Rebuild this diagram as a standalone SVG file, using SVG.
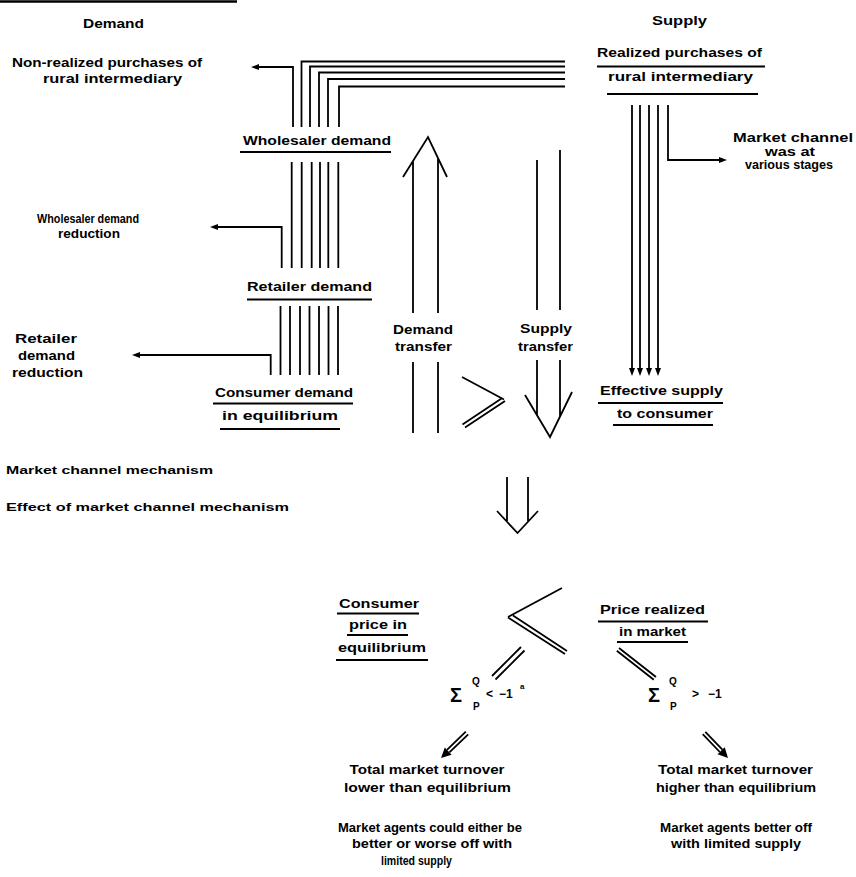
<svg xmlns="http://www.w3.org/2000/svg" width="856" height="877" viewBox="0 0 856 877">
<style>
text{font-family:"Liberation Sans",Arial,sans-serif;font-weight:bold;font-size:12px;fill:#000}
.sm{font-size:10.5px}
.ln{fill:none;stroke:#000;stroke-width:1.8}
.ul{stroke:#000;stroke-width:1.8}
.ar{fill:#000;stroke:none}
</style>
<defs>
<marker id="ah" viewBox="0 0 8 6" refX="1" refY="3" markerWidth="8" markerHeight="6" orient="auto" markerUnits="userSpaceOnUse"><path d="M0,0 L8,3 L0,6 z"/></marker>
</defs>
<rect width="856" height="877" fill="#fff"/>
<line x1="0" y1="1.5" x2="237" y2="1.5" stroke="#000" stroke-width="2.5"/>

<g id="connectors">
  <path class="ln" d="M293,127 V67 H258" marker-end="url(#ah)"/>
  <path class="ln" d="M301.5,127 V61.5 H565 M310,127 V66.5 H565 M319,127 V72.5 H565 M328,127 V79 H565 M339,127 V86.5 H565"/>
  <path class="ln" d="M281.7,268 V227 H217" marker-end="url(#ah)"/>
  <path class="ln" d="M291.7,162 V268 M301.7,162 V268 M311.7,162 V268 M320,162 V268 M328.3,162 V268 M338.3,162 V268"/>
  <path class="ln" d="M270.7,375 V355 H139" marker-end="url(#ah)"/>
  <path class="ln" d="M280.5,306 V375 M290,306 V375 M300,306 V375 M309.5,306 V375 M319,306 V375 M328.5,306 V375 M338,306 V375"/>
  <path class="ln" d="M632,105 V369" marker-end="url(#ah)"/>
  <path class="ln" d="M640,105 V369" marker-end="url(#ah)"/>
  <path class="ln" d="M649,105 V369" marker-end="url(#ah)"/>
  <path class="ln" d="M658,105 V369" marker-end="url(#ah)"/>
  <path class="ln" d="M668,105 V160 H720" marker-end="url(#ah)"/>
  <path class="ln" d="M403,177 L428,137 L447,177 M413,161 V313 M413,362 V433 M438,158 V313 M438,362 V433"/>
  <path class="ln" d="M537,160 V310 M537,360 V415 M560,150 V310 M560,360 V416 M525,395 L550,437 L572,392"/>
  <path class="ln" d="M462,377 L504,399.5 M505,401 L465,427.5 M501.5,398.5 L462.5,424.5"/>
  <path class="ln" d="M507,477 V521 M528,477 V521 M497,511 L517.5,533 L538,511"/>
  <path class="ln" d="M562,588 L508,617 M508,617.5 L565,654 M513,615.5 L567,651"/>
  <path class="ln" d="M521,647 L492,676 M524.5,650.5 L495.5,679.5"/>
  <path class="ln" d="M619,648 L656,677 M616.8,650.8 L653.8,679.8"/>
  <path class="ln" d="M468.2,734.3 L449.4,752.4 M465.8,731.7 L447,749.8"/>
  <path class="ar" d="M441,758 L451.6,754.7 L444.8,747.5 z"/>
  <path class="ln" d="M702.7,734.2 L719.8,752 M705.3,731.8 L722.4,749.6"/>
  <path class="ar" d="M728,758 L717.5,754.3 L724.7,747.3 z"/>
</g>

<g id="header-demand"><text x="83" y="28" textLength="61" lengthAdjust="spacingAndGlyphs">Demand</text></g>
<g id="header-supply"><text x="652" y="25" textLength="55" lengthAdjust="spacingAndGlyphs">Supply</text></g>

<g id="non-realized">
  <text x="12" y="67" textLength="190" lengthAdjust="spacingAndGlyphs">Non-realized purchases of</text>
  <text x="43" y="83" textLength="139" lengthAdjust="spacingAndGlyphs">rural intermediary</text>
</g>
<g id="wholesaler-demand">
  <text x="243" y="145" textLength="148" lengthAdjust="spacingAndGlyphs">Wholesaler demand</text>
  <line class="ul" x1="240" y1="152" x2="391" y2="152"/>
</g>
<g id="realized">
  <text x="597" y="57" textLength="165" lengthAdjust="spacingAndGlyphs">Realized purchases of</text>
  <line class="ul" x1="597" y1="66.5" x2="765" y2="66.5"/>
  <text x="608" y="81" textLength="145" lengthAdjust="spacingAndGlyphs">rural intermediary</text>
  <line class="ul" x1="607" y1="94" x2="758" y2="94"/>
</g>
<g id="market-channel-stages">
  <text x="733" y="142" textLength="120" lengthAdjust="spacingAndGlyphs">Market channel</text>
  <text x="765" y="156" textLength="50" lengthAdjust="spacingAndGlyphs">was at</text>
  <text x="745" y="169" textLength="88" lengthAdjust="spacingAndGlyphs">various stages</text>
</g>
<g id="wholesaler-reduction">
  <text x="37" y="223" textLength="102" lengthAdjust="spacingAndGlyphs">Wholesaler demand</text>
  <text x="58" y="238" textLength="62" lengthAdjust="spacingAndGlyphs">reduction</text>
</g>
<g id="retailer-demand">
  <text x="247" y="291" textLength="125" lengthAdjust="spacingAndGlyphs">Retailer demand</text>
  <line class="ul" x1="247" y1="299.5" x2="372" y2="299.5"/>
</g>
<g id="retailer-reduction">
  <text x="15" y="343" textLength="62" lengthAdjust="spacingAndGlyphs">Retailer</text>
  <text x="18" y="360" textLength="57" lengthAdjust="spacingAndGlyphs">demand</text>
  <text x="12" y="377" textLength="71" lengthAdjust="spacingAndGlyphs">reduction</text>
</g>
<g id="consumer-demand">
  <text x="215" y="397" textLength="138" lengthAdjust="spacingAndGlyphs">Consumer demand</text>
  <line class="ul" x1="213" y1="403.5" x2="353" y2="403.5"/>
  <text x="222" y="420" textLength="116" lengthAdjust="spacingAndGlyphs">in equilibrium</text>
  <line class="ul" x1="220" y1="429" x2="340" y2="429"/>
</g>
<g id="demand-transfer">
  <text x="393" y="334" textLength="60" lengthAdjust="spacingAndGlyphs">Demand</text>
  <text x="395" y="351" textLength="57" lengthAdjust="spacingAndGlyphs">transfer</text>
</g>
<g id="supply-transfer">
  <text x="520" y="333" textLength="52" lengthAdjust="spacingAndGlyphs">Supply</text>
  <text x="518" y="351" textLength="55" lengthAdjust="spacingAndGlyphs">transfer</text>
</g>
<g id="effective-supply">
  <text x="600" y="395" textLength="123" lengthAdjust="spacingAndGlyphs">Effective supply</text>
  <line class="ul" x1="598" y1="403" x2="723" y2="403"/>
  <text x="617" y="418" textLength="96" lengthAdjust="spacingAndGlyphs">to consumer</text>
  <line class="ul" x1="613" y1="425" x2="713" y2="425"/>
</g>
<g id="mechanism">
  <text class="sm" x="6" y="474" textLength="207" lengthAdjust="spacingAndGlyphs">Market channel mechanism</text>
</g>
<g id="effect">
  <text class="sm" x="6" y="511" textLength="283" lengthAdjust="spacingAndGlyphs">Effect of market channel mechanism</text>
</g>
<g id="consumer-price">
  <text x="339" y="608" textLength="80" lengthAdjust="spacingAndGlyphs">Consumer</text>
  <line class="ul" x1="337" y1="613.5" x2="419" y2="613.5"/>
  <text x="349" y="629" textLength="58" lengthAdjust="spacingAndGlyphs">price in</text>
  <line class="ul" x1="347" y1="635" x2="408" y2="635"/>
  <text x="338" y="652" textLength="88" lengthAdjust="spacingAndGlyphs">equilibrium</text>
  <line class="ul" x1="336" y1="660" x2="428" y2="660"/>
</g>
<g id="price-realized">
  <text x="600" y="614" textLength="105" lengthAdjust="spacingAndGlyphs">Price realized</text>
  <line class="ul" x1="598" y1="621.5" x2="708" y2="621.5"/>
  <text x="619" y="636" textLength="67" lengthAdjust="spacingAndGlyphs">in market</text>
  <line class="ul" x1="617" y1="642" x2="688" y2="642"/>
</g>
<g id="cond-left">
  <text x="450" y="702" style="font-size:20px">Σ</text>
  <text x="472" y="685" style="font-size:10px">Q</text>
  <text x="473" y="710" style="font-size:10px">P</text>
  <text x="486" y="698">&lt;</text>
  <text x="499" y="698">−1</text>
  <text x="520" y="689" style="font-size:8px">a</text>
</g>
<g id="cond-right">
  <text x="648" y="702" style="font-size:20px">Σ</text>
  <text x="669" y="685" style="font-size:10px">Q</text>
  <text x="670" y="710" style="font-size:10px">P</text>
  <text x="692" y="698">&gt;</text>
  <text x="708" y="698">−1</text>
</g>
<g id="turnover-lower">
  <text x="349.5" y="774" textLength="155" lengthAdjust="spacingAndGlyphs">Total market turnover</text>
  <text x="344" y="792" textLength="167" lengthAdjust="spacingAndGlyphs">lower than equilibrium</text>
</g>
<g id="turnover-higher">
  <text x="658" y="774" textLength="155" lengthAdjust="spacingAndGlyphs">Total market turnover</text>
  <text x="656" y="792" textLength="160" lengthAdjust="spacingAndGlyphs">higher than equilibrium</text>
</g>
<g id="agents-either">
  <text x="338" y="832" textLength="184" lengthAdjust="spacingAndGlyphs">Market agents could either be</text>
  <text x="352" y="848" textLength="160" lengthAdjust="spacingAndGlyphs">better or worse off with</text>
  <text x="381" y="865" textLength="71" lengthAdjust="spacingAndGlyphs">limited supply</text>
</g>
<g id="agents-better">
  <text x="660" y="832" textLength="152" lengthAdjust="spacingAndGlyphs">Market agents better off</text>
  <text x="671" y="848" textLength="130" lengthAdjust="spacingAndGlyphs">with limited supply</text>
</g>
</svg>
